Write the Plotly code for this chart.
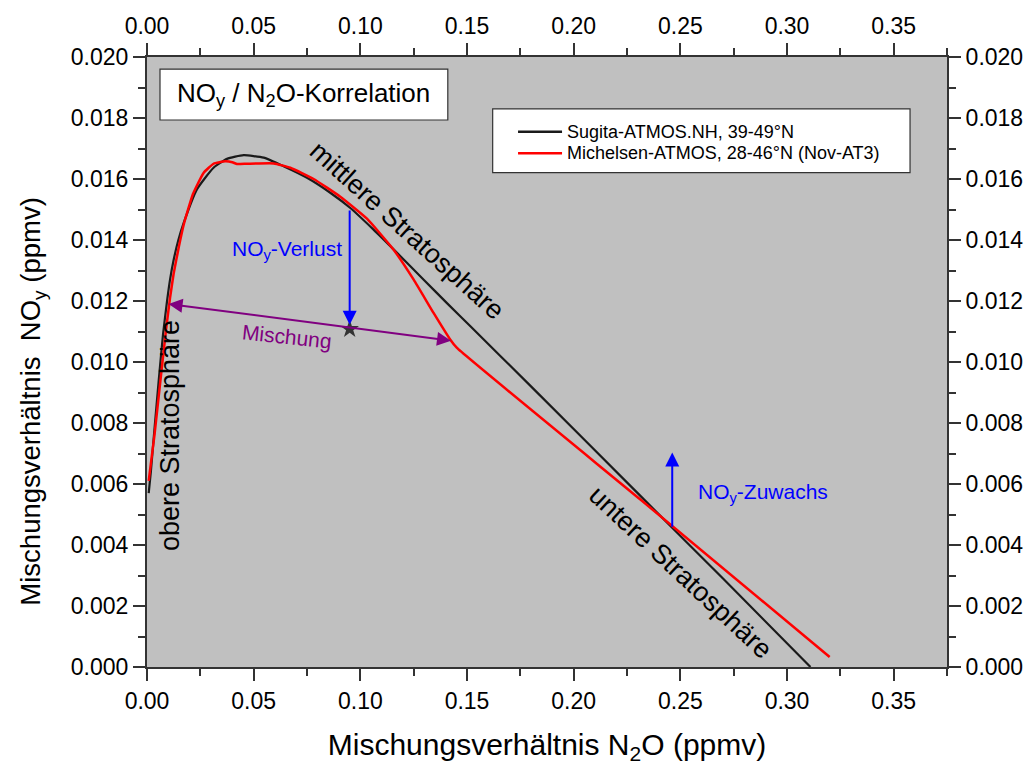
import plotly.graph_objects as go

# ---- data ----
sugita_n2o = [0.0008, 0.0018, 0.0035, 0.0055, 0.0075, 0.0094, 0.0108, 0.0125, 0.0147, 0.0172,
              0.0234, 0.0312, 0.0375, 0.0453, 0.0547, 0.0640, 0.0750, 0.0859, 0.0953, 0.1062,
              0.1172, 0.1297, 0.1406, 0.1516, 0.1800, 0.2300, 0.2700, 0.3110]
sugita_noy = [0.0057, 0.0064, 0.0078, 0.0094, 0.0109, 0.0120, 0.0127, 0.01335, 0.0140, 0.01456,
              0.01566, 0.01637, 0.01666, 0.01678, 0.01670, 0.01642, 0.01604, 0.01555, 0.01505, 0.01434,
              0.01358, 0.01270, 0.01193, 0.01117, 0.00920, 0.00570, 0.00290, 0.0000]

michelsen_n2o = [0.0008, 0.0035, 0.0063, 0.0090, 0.0108, 0.0125, 0.0150, 0.0172, 0.0215, 0.0265,
                 0.0312, 0.0367, 0.0400, 0.0422, 0.0470, 0.0594, 0.0672, 0.0781, 0.0906, 0.1031,
                 0.1156, 0.1250, 0.1344, 0.1422, 0.1453, 0.2313, 0.3200]
michelsen_noy = [0.0061, 0.0076, 0.0094, 0.0111, 0.0121, 0.0129, 0.0138, 0.0145, 0.0155, 0.0162,
                 0.01650, 0.01658, 0.01655, 0.01649, 0.01650, 0.01651, 0.01637, 0.01600, 0.01542, 0.01470,
                 0.01368, 0.01270, 0.01160, 0.01073, 0.01046, 0.00549, 0.00033]

series_names = ["Sugita-ATMOS.NH, 39-49°N", "Michelsen-ATMOS, 28-46°N (Nov-AT3)"]
series_colors = ["#1a1a1a", "#ff0000"]

star_point = (0.095, 0.01108)
verlust_arrow = (0.095, 0.01502, 0.01122)       # x, y_from, y_to
zuwachs_arrow = (0.2462, 0.00455, 0.00703)      # x, y_from, y_to
mischung_arrow = (0.0094, 0.01191, 0.1425, 0.0107)  # x0, y0, x1, y1

x_range = [0, 0.375]
y_range = [0, 0.020]

FONT = "Arial, 'Liberation Sans', sans-serif"
AX = "#333333"

fig = go.Figure()
fig.add_trace(go.Scatter(x=sugita_n2o, y=sugita_noy, mode="lines", name=series_names[0],
                         line=dict(color=series_colors[0], width=2.2, shape="spline", smoothing=0.5)))
fig.add_trace(go.Scatter(x=michelsen_n2o, y=michelsen_noy, mode="lines", name=series_names[1],
                         line=dict(color=series_colors[1], width=2.5, shape="spline", smoothing=0.4)))
fig.add_trace(go.Scatter(x=[star_point[0]], y=[star_point[1]], mode="markers",
                         marker=dict(symbol="star", size=14, color="#333333")))
fig.add_trace(go.Scatter(x=[], y=[], xaxis="x2", yaxis="y2"))

axis_common = dict(showline=True, linewidth=2, linecolor=AX, ticks="outside", ticklen=12,
                   tickwidth=2, tickcolor=AX, showgrid=False, zeroline=False, automargin=False,
                   tickfont=dict(family=FONT, size=23, color="black"))
x_minor = dict(dtick=0.025, ticklen=7, tickwidth=2, tickcolor=AX, ticks="outside")
y_minor = dict(dtick=0.001, ticklen=7, tickwidth=2, tickcolor=AX, ticks="outside")

fig.update_layout(
    width=1030, height=765,
    margin=dict(l=147, r=83, t=57, b=98),
    paper_bgcolor="white", plot_bgcolor="#C0C0C0",
    font=dict(family=FONT, color="black"),
    showlegend=False,
    xaxis=dict(range=x_range, dtick=0.05, tick0=0, tickformat=".2f", minor=x_minor,
               title=dict(text="Mischungsverhältnis N<sub>2</sub>O (ppmv)",
                          font=dict(size=30, family=FONT), standoff=22),
               **axis_common),
    xaxis2=dict(range=x_range, dtick=0.05, tick0=0, tickformat=".2f", overlaying="x", side="top",
                minor=x_minor, **axis_common),
    yaxis=dict(range=y_range, dtick=0.002, tick0=0, tickformat=".3f", minor=y_minor, **axis_common),
    yaxis2=dict(range=y_range, dtick=0.002, tick0=0, tickformat=".3f", overlaying="y", side="right",
                minor=y_minor, **axis_common),
)

# y-axis title (placed as rotated text, slightly below plot centre as in the reference)
fig.add_annotation(xref="paper", yref="paper", x=-0.1425, y=0.435, showarrow=False, textangle=-90,
                   text="Mischungsverhältnis\u00a0\u00a0NO<sub>y</sub> (ppmv)",
                   font=dict(size=27.5, family=FONT), xanchor="center", yanchor="middle")

# title box
fig.add_shape(type="rect", xref="paper", yref="paper", x0=0.01625, x1=0.376, y0=0.8967, y1=0.98,
              fillcolor="white", line=dict(color=AX, width=1.2), layer="above")
fig.add_annotation(xref="paper", yref="paper", x=0.196, y=0.9385, showarrow=False,
                   text="NO<sub>y</sub> / N<sub>2</sub>O-Korrelation", font=dict(size=26, family=FONT),
                   xanchor="center", yanchor="middle")

# legend box (drawn to match the reference layout)
fig.add_shape(type="rect", xref="paper", yref="paper", x0=0.4321, x1=0.9538, y0=0.8103, y1=0.9148,
              fillcolor="white", line=dict(color=AX, width=1.2), layer="above")
legend_rows_y = [0.8775, 0.8421]
for name, color, ly in zip(series_names, series_colors, legend_rows_y):
    fig.add_shape(type="line", xref="paper", yref="paper", x0=0.4638, x1=0.5188, y0=ly, y1=ly,
                  line=dict(color=color, width=2.5), layer="above")
    fig.add_annotation(xref="paper", yref="paper", x=0.523, y=ly, text=name, showarrow=False,
                       xanchor="left", yanchor="middle", font=dict(size=18, family=FONT))

# region labels
fig.add_annotation(x=0.1222, y=0.01431, text="mittlere Stratosphäre", showarrow=False,
                   textangle=42, font=dict(size=27, family=FONT))
fig.add_annotation(x=0.2499, y=0.0031, text="untere Stratosphäre", showarrow=False,
                   textangle=43, font=dict(size=27, family=FONT))
fig.add_annotation(x=0.0109, y=0.00758, text="obere Stratosphäre", showarrow=False,
                   textangle=-90, font=dict(size=27, family=FONT))

# arrows
fig.add_annotation(x=verlust_arrow[0], y=verlust_arrow[2], ax=verlust_arrow[0], ay=verlust_arrow[1],
                   xref="x", yref="y", axref="x", ayref="y", text="", showarrow=True,
                   arrowhead=2, arrowsize=1.4, arrowwidth=2, arrowcolor="#0000ff")
fig.add_annotation(x=zuwachs_arrow[0], y=zuwachs_arrow[2], ax=zuwachs_arrow[0], ay=zuwachs_arrow[1],
                   xref="x", yref="y", axref="x", ayref="y", text="", showarrow=True,
                   arrowhead=2, arrowsize=1.4, arrowwidth=2, arrowcolor="#0000ff")
fig.add_annotation(x=mischung_arrow[2], y=mischung_arrow[3], ax=mischung_arrow[0], ay=mischung_arrow[1],
                   xref="x", yref="y", axref="x", ayref="y", text="", showarrow=True,
                   arrowhead=2, startarrowhead=2, arrowside="end+start", arrowsize=1.4,
                   startarrowsize=1.4, arrowwidth=2, arrowcolor="#800080")

fig.add_annotation(x=0.0925, y=0.01368, text="NO<sub>y</sub>-Verlust", showarrow=False,
                   xanchor="right", yanchor="middle", font=dict(size=21, color="#0000ff", family=FONT))
fig.add_annotation(x=0.2575, y=0.0057, text="NO<sub>y</sub>-Zuwachs", showarrow=False,
                   xanchor="left", yanchor="middle", font=dict(size=21, color="#0000ff", family=FONT))
fig.add_annotation(x=0.0656, y=0.01084, text="Mischung", showarrow=False, textangle=6,
                   font=dict(size=21, color="#800080", family=FONT))

fig.write_html("out.html")
